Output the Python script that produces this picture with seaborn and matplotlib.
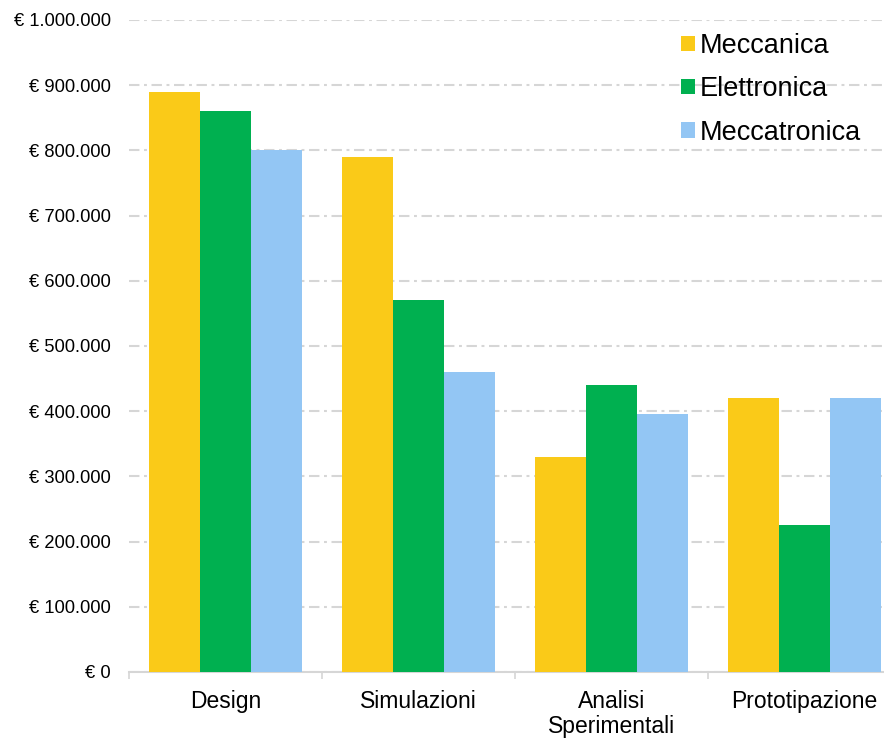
import matplotlib
matplotlib.use("Agg")
import matplotlib.pyplot as plt
import matplotlib.ticker as mticker
import numpy as np
import pandas as pd
import seaborn as sns

categories = ["Design", "Simulazioni", "Analisi\nSperimentali", "Prototipazione"]
series = ["Meccanica", "Elettronica", "Meccatronica"]
meccanica = [890000, 790000, 330000, 420000]
elettronica = [860000, 570000, 440000, 225000]
meccatronica = [800000, 460000, 395000, 420000]
colors = ["#FACA18", "#00B050", "#93C6F4"]
y_ticks = [0, 100000, 200000, 300000, 400000, 500000, 600000, 700000, 800000, 900000, 1000000]

df = pd.DataFrame({
    "categoria": categories * 3,
    "serie": [s for s in series for _ in categories],
    "valore": meccanica + elettronica + meccatronica,
})

sns.set_theme(style="white")
plt.rcParams["font.family"] = ["Liberation Sans", "DejaVu Sans"]
plt.rcParams["text.color"] = "black"

fig = plt.figure(figsize=(8.84, 7.41), dpi=100)
ax = fig.add_axes([129 / 884, 69 / 741, 772 / 884, 652 / 741])

sns.barplot(data=df, x="categoria", y="valore", hue="serie", order=categories,
            hue_order=series, palette=colors, width=0.793, gap=0, saturation=1,
            linewidth=0, ax=ax, zorder=3)

ax.set_xlim(-0.5, len(categories) - 0.5)
ax.set_ylim(0, 1000000)
ax.set_yticks(y_ticks)
ax.yaxis.set_major_formatter(
    mticker.FuncFormatter(lambda v, p: "€ " + f"{int(v):,}".replace(",", ".")))
ax.tick_params(axis="y", length=0, pad=13, labelsize=13.2, labelcolor="black")
ax.grid(axis="y", color="#D6D6D6", linewidth=1.5, linestyle=(0, (5, 2.2, 1.4, 2.2)), zorder=0)
ax.grid(axis="x", visible=False)
ax.set_axisbelow(True)

# category labels at centres, small tick marks at the category boundaries
ax.set_xticks(range(len(categories)))
ax.set_xticklabels(categories, fontsize=16.5, color="black", linespacing=1.12)
ax.set_xticks(np.arange(-0.5, len(categories)), minor=True)
ax.tick_params(axis="x", which="major", length=0, pad=13)
ax.tick_params(axis="x", which="minor", length=5, width=1.2, color="#D6D6D6", bottom=True)

for side in ["top", "right", "left"]:
    ax.spines[side].set_visible(False)
ax.spines["bottom"].set_color("#D6D6D6")
ax.spines["bottom"].set_linewidth(1.5)
ax.set_xlabel("")
ax.set_ylabel("")

handles, labels = ax.get_legend_handles_labels()
leg = ax.legend(handles, labels, loc="upper left", bbox_to_anchor=(681 / 884, 1 - 33 / 741),
                bbox_transform=fig.transFigure, frameon=False, fontsize=19.5,
                handlelength=0.5, handleheight=0.5, handletextpad=0.2,
                labelspacing=0.64, borderpad=0, borderaxespad=0)
for t in leg.get_texts():
    t.set_color("black")

fig.savefig("out.png", dpi=100)
